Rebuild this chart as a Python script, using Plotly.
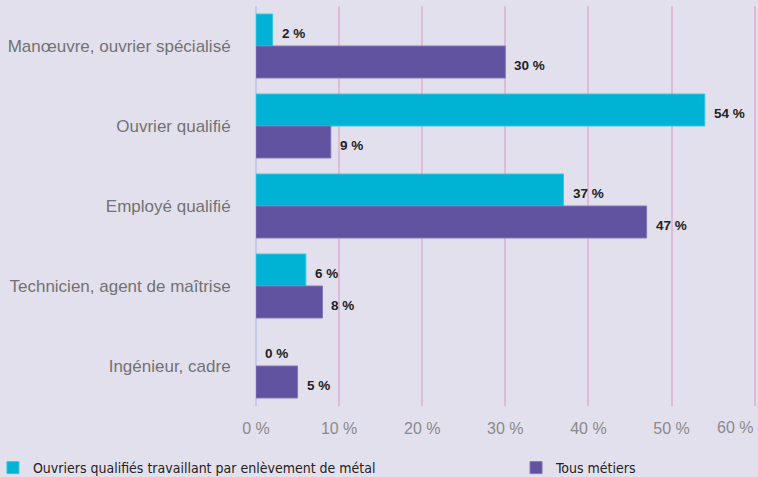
import plotly.graph_objects as go

categories = [
    "Manœuvre, ouvrier spécialisé",
    "Ouvrier qualifié",
    "Employé qualifié",
    "Technicien, agent de maîtrise",
    "Ingénieur, cadre",
]
metal_values = [2, 54, 37, 6, 0]
all_values = [30, 9, 47, 8, 5]
series_names = ["Ouvriers qualifiés travaillant par enlèvement de métal", "Tous métiers"]
x_tick_vals = [0, 10, 20, 30, 40, 50, 60]
x_tick_text = ["0 %", "10 %", "20 %", "30 %", "40 %", "50 %", ""]
last_tick_val = 60
last_tick_text = "60 %"

CYAN = "#00b3d5"
PURPLE = "#6153a0"
BG = "#e3e0ee"

fig = go.Figure()
fig.add_trace(go.Bar(
    y=categories, x=metal_values, orientation="h", name=series_names[0],
    marker=dict(color=CYAN, line=dict(color="#3cc3de",
                                      width=[1 if v > 0 else 0 for v in metal_values])),
    legend="legend",
))
fig.add_trace(go.Bar(
    y=categories, x=all_values, orientation="h", name=series_names[1],
    marker=dict(color=PURPLE, line=dict(color="#8277b8",
                                        width=[1 if v > 0 else 0 for v in all_values])),
    legend="legend2",
))

label_font = dict(family="Liberation Sans", size=13.5, color="#222222", weight="bold")
annotations = []
for cat, v in zip(categories, metal_values):
    annotations.append(dict(x=v, y=cat, xref="x", yref="y", text=f"{v} %",
                            showarrow=False, xanchor="left", xshift=7, yshift=13,
                            font=label_font))
for cat, v in zip(categories, all_values):
    annotations.append(dict(x=v, y=cat, xref="x", yref="y", text=f"{v} %",
                            showarrow=False, xanchor="left", xshift=7, yshift=-19,
                            font=label_font))
annotations.append(dict(x=last_tick_val, y=0, xref="x", yref="paper", text=last_tick_text,
                        showarrow=False, xanchor="right", yanchor="top", xshift=0, yshift=-11,
                        font=dict(family="Liberation Sans", size=16, color="#8a8a8a")))

legend_common = dict(orientation="h", yanchor="middle", y=-0.155, xanchor="left",
                     traceorder="normal",
                     font=dict(family="DejaVu Sans Condensed", size=14, color="#222222"),
                     bgcolor="rgba(0,0,0,0)")

fig.update_layout(
    width=758, height=477,
    margin=dict(l=256, r=0, t=6, b=71, autoexpand=False),
    paper_bgcolor=BG, plot_bgcolor=BG,
    barmode="group", bargap=0.2, bargroupgap=0,
    showlegend=True,
    legend=dict(x=-0.524, **legend_common),
    legend2=dict(x=0.518, **legend_common),
    annotations=annotations,
    xaxis=dict(range=[0, 60.4], tickvals=x_tick_vals, ticktext=x_tick_text,
               showgrid=True, gridcolor="#dcbcd9", gridwidth=1.5,
               zeroline=True, zerolinecolor="#c5cbe6", zerolinewidth=1.5,
               showline=False, ticks="outside", ticklen=8, tickcolor=BG,
               tickfont=dict(family="Liberation Sans", size=16, color="#8a8a8a"),
               automargin=False, fixedrange=True),
    yaxis=dict(autorange="reversed", showgrid=False, showline=False,
               ticks="outside", ticklen=21, tickcolor=BG,
               tickfont=dict(family="Liberation Sans", size=17, color="#727272"),
               automargin=False, fixedrange=True),
)

fig.write_html("out.html", config={"displayModeBar": False},
               post_script="document.body.style.margin='0px';document.body.style.overflow='hidden';")
